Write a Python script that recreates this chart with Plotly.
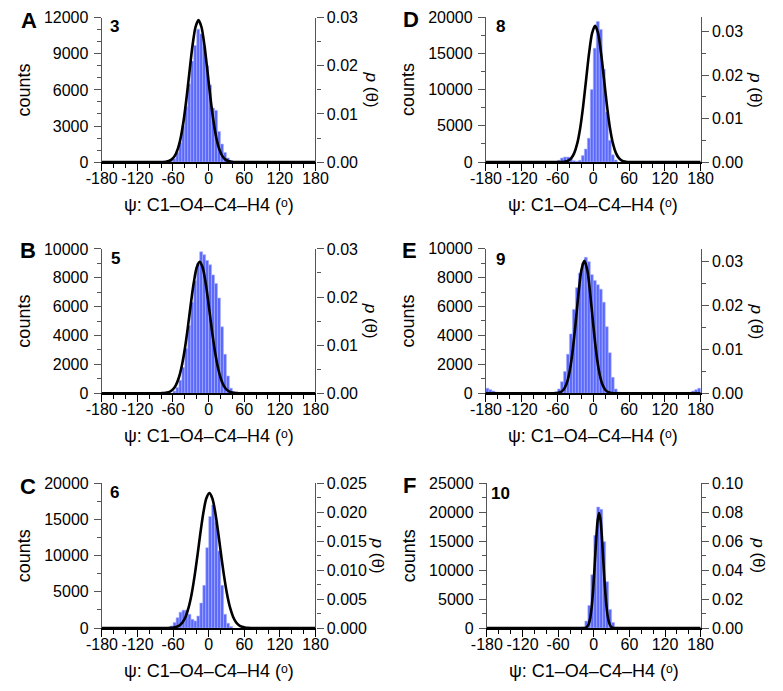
import plotly.graph_objects as go

# ---------------- data ----------------
# Panel A (3)
A_bins = [-62.5, -57.5, -52.5, -47.5, -42.5, -37.5, -32.5, -27.5, -22.5, -17.5, -12.5,
          -7.5, -2.5, 2.5, 7.5, 12.5, 17.5, 22.5, 27.5, 32.5, 37.5]
A_counts = [80, 270, 800, 1600, 3000, 4600, 6500, 8400, 9700, 11050, 10650,
            9600, 8000, 6400, 4500, 4300, 2550, 1500, 800, 350, 130]
A_curve_x = [-180, -87, -77, -72, -67, -62, -57, -52, -47, -42, -37, -32, -27, -22, -17,
             -12, -7, -2, 3, 8, 13, 18, 23, 28, 33, 38, 43, 53, 180]
A_curve_p = [0, 0, 0.00003, 0.00008, 0.00022, 0.00057, 0.0013, 0.0027, 0.00507, 0.0087,
             0.01351, 0.019, 0.02428, 0.02808, 0.0295, 0.02808, 0.02428, 0.019, 0.01351,
             0.0087, 0.00507, 0.0027, 0.0013, 0.00057, 0.00022, 0.00008, 0.00003, 0, 0]

# Panel B (5)
B_bins = [-57.5, -52.5, -47.5, -42.5, -37.5, -32.5, -27.5, -22.5, -17.5, -12.5, -7.5,
          -2.5, 2.5, 7.5, 12.5, 17.5, 22.5, 27.5, 32.5, 37.5, 42.5]
B_counts = [150, 400, 900, 1800, 3100, 4700, 6300, 7800, 9000, 9800, 9600,
            9200, 8900, 8200, 7600, 6600, 4600, 2700, 1200, 350, 100]
B_curve_x = [-180, -90, -80, -75, -70, -65, -60, -55, -50, -45, -40, -35, -30, -25, -20,
             -15, -10, -5, 0, 5, 10, 15, 20, 25, 30, 35, 40, 45, 50, 60, 180]
B_curve_p = [0, 0, 0.00002, 0.00005, 0.00015, 0.00036, 0.00082, 0.00171, 0.00328, 0.00576,
             0.00925, 0.01365, 0.01851, 0.02296, 0.02615, 0.0273, 0.02615, 0.02296, 0.01851,
             0.01365, 0.00925, 0.00576, 0.00328, 0.00171, 0.00082, 0.00036, 0.00015,
             0.00005, 0.00002, 0, 0]

# Panel C (6)
C_bins = [-67.5, -62.5, -57.5, -52.5, -47.5, -42.5, -37.5, -32.5, -27.5, -22.5, -17.5,
          -12.5, -7.5, -2.5, 2.5, 7.5, 12.5, 17.5, 22.5, 27.5, 32.5, 37.5]
C_counts = [100, 300, 760, 1440, 2200, 2470, 2470, 1900, 1200, 990, 1660,
            3460, 5900, 11100, 15400, 17000, 14700, 10650, 5900, 1900, 670, 220]
C_curve_x = [-180, -80, -69, -64, -59, -54, -49, -44, -39, -34, -29, -24, -19, -14, -9, -4,
             1, 6, 11, 16, 21, 26, 31, 36, 41, 46, 51, 56, 61, 66, 71, 80, 180]
C_curve_p = [0, 0, 0.000012, 0.000034, 0.00009, 0.00022, 0.00049, 0.00102, 0.00197,
             0.00352, 0.0058, 0.00888, 0.01256, 0.01647, 0.01997, 0.02241, 0.0233,
             0.02241, 0.01997, 0.01647, 0.01256, 0.00888, 0.0058, 0.00352, 0.00197,
             0.00102, 0.00049, 0.00022, 0.00009, 0.000034, 0.000012, 0, 0]

# Panel D (8)
D_bins = [-62.5, -57.5, -52.5, -47.5, -42.5, -37.5, -32.5, -27.5, -22.5, -17.5, -12.5,
          -7.5, -2.5, 2.5, 7.5, 12.5, 17.5, 22.5, 27.5, 32.5, 37.5]
D_counts = [60, 250, 550, 700, 700, 500, 200, 120, 250, 900, 1800,
            3300, 10000, 15700, 19400, 18300, 12800, 6900, 3000, 1000, 300]
D_curve_x = [-180, -70, -57, -52, -47, -42, -37, -32, -27, -22, -17, -12, -7, -2, 3,
             8, 13, 18, 23, 28, 33, 38, 43, 48, 53, 58, 63, 75, 180]
D_curve_p = [0, 0, 0.00001, 0.00004, 0.00012, 0.00035, 0.0009, 0.00206, 0.00423, 0.00779,
             0.01286, 0.019, 0.02507, 0.02961, 0.0313, 0.02961, 0.02507, 0.019, 0.01286,
             0.00779, 0.00423, 0.00206, 0.0009, 0.00035, 0.00012, 0.00004, 0.00001, 0, 0]

# Panel E (9)
E_bins = [-177.5, -172.5, -167.5, -162.5, -157.5,
          -62.5, -57.5, -52.5, -47.5, -42.5, -37.5, -32.5, -27.5, -22.5, -17.5, -12.5,
          -7.5, -2.5, 2.5, 7.5, 12.5, 17.5, 22.5, 27.5, 32.5, 37.5, 42.5,
          162.5, 167.5, 172.5, 177.5]
E_counts = [350, 250, 150, 80, 40,
            100, 300, 800, 1500, 2700, 4100, 5800, 7300, 8300, 9000, 9400,
            9100, 8200, 7800, 7500, 7200, 6300, 4600, 2800, 1100, 300, 80,
            60, 150, 250, 350]
E_curve_x = [-180, -75, -65, -60, -55, -50, -45, -40, -35, -30, -25, -20, -15,
             -10, -5, 0, 5, 10, 15, 20, 25, 30, 35, 45, 180]
E_curve_p = [0, 0, 0.000018, 0.000075, 0.00027, 0.00081, 0.0021, 0.00474, 0.00924,
             0.01552, 0.02247, 0.02806, 0.0302, 0.02806, 0.02247, 0.01552, 0.00924,
             0.00474, 0.0021, 0.00081, 0.00027, 0.000075, 0.000018, 0, 0]

# Panel F (10)
F_bins = [-17.5, -12.5, -7.5, -2.5, 2.5, 7.5, 12.5, 17.5, 22.5, 27.5, 32.5, 37.5]
F_counts = [200, 1200, 3900, 9200, 16000, 20900, 20500, 14900, 8000, 3200, 950, 150]
F_curve_x = [-180, -30, -21, -16, -13.5, -11, -8.5, -6, -3.5, -1, 1.5, 4, 6.5, 9,
             11.5, 14, 16.5, 19, 21.5, 24, 26.5, 29, 31.5, 34, 39, 48, 180]
F_curve_p = [0, 0, 0.000005, 0.00009, 0.00033, 0.00105, 0.0029, 0.00699, 0.01471,
             0.02695, 0.04325, 0.06066, 0.07433, 0.0795, 0.07433, 0.06066, 0.04325,
             0.02695, 0.01471, 0.00699, 0.0029, 0.00105, 0.00033, 0.00009, 0.000005, 0, 0]

X_TICKS = [-180, -120, -60, 0, 60, 120, 180]
X_TICK_LABELS = ["-180", "-120", "-60", "0", "60", "120", "180"]
X_MINOR = list(range(-180, 181, 20))
X_TITLE = "ψ: C1–O4–C4–H4 (ᵒ)"

# ---------------- layout / styling ----------------
W, H = 783, 691
FONT = "Liberation Sans, DejaVu Sans, Arial, Helvetica, sans-serif"
BAR = "#5a68fb"
BAR_EDGE = "#aab2ff"
AXC = "#555555"


def px(x):
    return x / W


def py(y):
    return 1 - y / H


panels = [
    dict(letter="A", num="3", bins=A_bins, counts=A_counts, cx=A_curve_x, cp=A_curve_p,
         box=(89, 311, 10, 158), ymax=12000, ydt=3000, yminor=1000,
         pmax=0.03, pdt=0.01, pminor=0.005, pfmt=".2f", rt=58,
         lpos=(13, 12.5), npos=(102.5, 18.5)),
    dict(letter="B", num="5", bins=B_bins, counts=B_counts, cx=B_curve_x, cp=B_curve_p,
         box=(89, 311, 247, 395), ymax=10000, ydt=2000, yminor=1000,
         pmax=0.03, pdt=0.01, pminor=0.005, pfmt=".2f", rt=58,
         lpos=(12.5, 248.5), npos=(103.5, 256.5)),
    dict(letter="C", num="6", bins=C_bins, counts=C_counts, cx=C_curve_x, cp=C_curve_p,
         box=(89.3, 311, 487.3, 635.7), ymax=20000, ydt=5000, yminor=2500,
         pmax=0.025, pdt=0.005, pminor=0.0025, pfmt=".3f", rt=64,
         lpos=(12, 491), npos=(102, 496.5)),
    dict(letter="D", num="8", bins=D_bins, counts=D_counts, cx=D_curve_x, cp=D_curve_p,
         box=(488, 711, 9.3, 158), ymax=20000, ydt=5000, yminor=2500,
         pmax=0.0333, pdt=0.01, pminor=0.005, pfmt=".2f", rt=57,
         lpos=(410.5, 11.5), npos=(503, 19)),
    dict(letter="E", num="9", bins=E_bins, counts=E_counts, cx=E_curve_x, cp=E_curve_p,
         box=(488, 711, 246.7, 395), ymax=10000, ydt=2000, yminor=1000,
         pmax=0.033, pdt=0.01, pminor=0.005, pfmt=".2f", rt=57,
         lpos=(408.5, 248.5), npos=(503, 257.5)),
    dict(letter="F", num="10", bins=F_bins, counts=F_counts, cx=F_curve_x, cp=F_curve_p,
         box=(489, 711, 487.3, 635.7), ymax=25000, ydt=5000, yminor=2500,
         pmax=0.10, pdt=0.02, pminor=0.01, pfmt=".2f", rt=60,
         lpos=(408.5, 490), npos=(503.5, 497.5)),
]

fig = go.Figure()
layout = dict(
    width=W, height=H, margin=dict(l=0, r=0, t=0, b=0),
    paper_bgcolor="white", plot_bgcolor="white", showlegend=False,
    font=dict(family=FONT, size=16, color="black"),
)
annotations = []
tickfont = dict(family=FONT, size=16, color="black")

for i, P in enumerate(panels):
    n = i + 1
    xa = "x" if n == 1 else f"x{n}"
    yl_n, yr_n = 2 * i + 1, 2 * i + 2
    yl = "y" if yl_n == 1 else f"y{yl_n}"
    yr = f"y{yr_n}"
    x0, x1, top, bot = P["box"]

    fig.add_trace(go.Bar(
        x=P["bins"], y=P["counts"], width=5,
        marker=dict(color=BAR, line=dict(color=BAR_EDGE, width=0.6)),
        xaxis=xa, yaxis=yl, hoverinfo="skip"))
    fig.add_trace(go.Scatter(
        x=P["cx"], y=P["cp"], mode="lines",
        line=dict(color="black", width=2.6, shape="spline", smoothing=0.8),
        xaxis=xa, yaxis=yr, hoverinfo="skip"))

    layout["xaxis" if n == 1 else f"xaxis{n}"] = dict(
        domain=[px(x0), px(x1)], anchor=yl, range=[-180, 180],
        tickmode="array", tickvals=X_TICKS, ticktext=X_TICK_LABELS,
        ticks="outside", ticklen=7, tickwidth=1, tickcolor="black",
        ticklabelstandoff=-6,
        showline=True, linecolor="black", linewidth=1.5,
        showgrid=False, zeroline=False, tickfont=tickfont,
        minor=dict(tickmode="array", tickvals=X_MINOR, ticks="outside",
                   ticklen=4, tickwidth=1, tickcolor="black", showgrid=False),
    )
    layout["yaxis" if yl_n == 1 else f"yaxis{yl_n}"] = dict(
        domain=[py(bot), py(top)], anchor=xa, range=[0, P["ymax"]],
        tickmode="linear", tick0=0, dtick=P["ydt"], tickformat="d",
        ticks="outside", ticklen=7, tickwidth=1, tickcolor=AXC,
        ticklabelstandoff=2,
        showline=True, linecolor=AXC, linewidth=1.2,
        showgrid=False, zeroline=False, tickfont=tickfont,
        title=dict(text="counts", font=dict(family=FONT, size=18, color="black"),
                   standoff=8),
        minor=dict(tick0=0, dtick=P["yminor"], ticks="outside", ticklen=4,
                   tickwidth=1, tickcolor=AXC, showgrid=False),
    )
    layout[f"yaxis{yr_n}"] = dict(
        overlaying=yl, side="right", anchor=xa, range=[0, P["pmax"]],
        tickmode="linear", tick0=0, dtick=P["pdt"], tickformat=P["pfmt"],
        ticks="outside", ticklen=7, tickwidth=1, tickcolor=AXC,
        showline=True, linecolor=AXC, linewidth=1.2,
        showgrid=False, zeroline=False, tickfont=tickfont,
        minor=dict(tick0=0, dtick=P["pminor"], ticks="outside", ticklen=4,
                   tickwidth=1, tickcolor=AXC, showgrid=False),
    )

    cx_mid = (x0 + x1) / 2
    cy_mid = (top + bot) / 2
    # x-axis title
    annotations.append(dict(
        xref="paper", yref="paper", x=px(cx_mid), y=py(bot + 44),
        xanchor="center", yanchor="middle", showarrow=False,
        text=X_TITLE, font=dict(family=FONT, size=18, color="black")))
    # right title
    annotations.append(dict(
        xref="paper", yref="paper", x=px(x1 + P["rt"]), y=py(cy_mid),
        xanchor="center", yanchor="middle", showarrow=False, textangle=90,
        text="<i>p</i> (θ)", font=dict(family=FONT, size=17, color="black")))
    # panel letter
    annotations.append(dict(
        xref="paper", yref="paper", x=px(P["lpos"][0]), y=py(P["lpos"][1]),
        xanchor="center", yanchor="middle", showarrow=False,
        text=P["letter"], font=dict(family=FONT, size=22, color="black", weight="bold")))
    # compound number
    annotations.append(dict(
        xref="paper", yref="paper", x=px(P["npos"][0]), y=py(P["npos"][1]),
        xanchor="center", yanchor="middle", showarrow=False,
        text=P["num"], font=dict(family=FONT, size=17, color="black", weight="bold")))

layout["annotations"] = annotations
fig.update_layout(**layout)
fig.write_html("out.html")
